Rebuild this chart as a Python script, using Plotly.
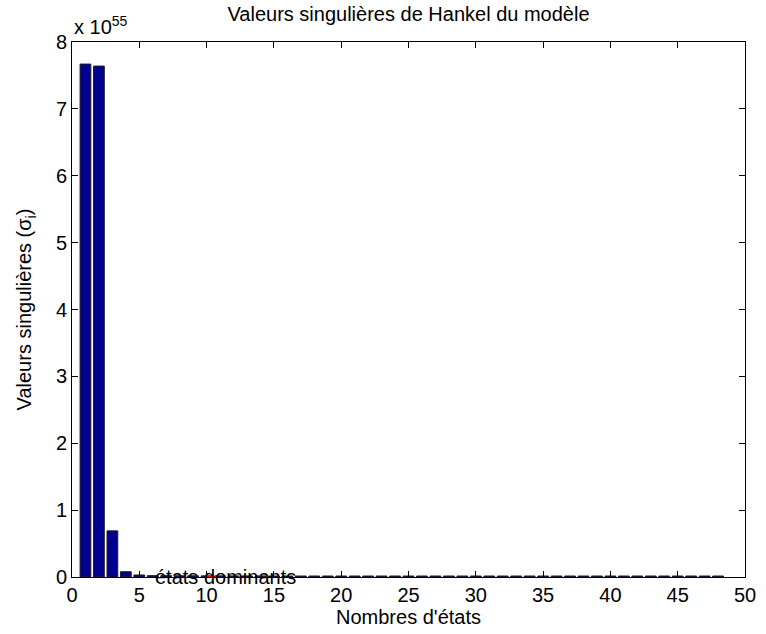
import plotly.graph_objects as go

# Data (values in units of 1e55)
states = list(range(1, 49))
sigma = [7.67, 7.64, 0.69, 0.079, 0.03, 0.02, 0.02, 0.018, 0.018, 0.017,
         0.017, 0.016, 0.016, 0.016, 0.015, 0.015, 0.015, 0.015, 0.015, 0.015,
         0.015, 0.015, 0.015, 0.015, 0.015, 0.015, 0.015, 0.015, 0.015, 0.015,
         0.015, 0.015, 0.015, 0.015, 0.015, 0.015, 0.015, 0.015, 0.015, 0.015,
         0.015, 0.015, 0.015, 0.015, 0.015, 0.015, 0.015, 0.015]
x_ticks = [0, 5, 10, 15, 20, 25, 30, 35, 40, 45, 50]
y_ticks = [0, 1, 2, 3, 4, 5, 6, 7, 8]
exponent = 55
label_x = 6.0
label_text = "états dominants"
marker_x = 10.3

FONT = "Liberation Sans, Arial, sans-serif"
FS = 20

fig = go.Figure()
fig.add_trace(go.Bar(
    x=states, y=sigma, width=0.8,
    marker=dict(color="rgb(0,0,143)", line=dict(color="rgb(30,30,30)", width=1)),
    showlegend=False,
))
fig.add_trace(go.Scatter(
    x=[marker_x], y=[0], mode="markers",
    marker=dict(symbol="line-ew", size=8, line=dict(color="red", width=2)),
    showlegend=False,
))

fig.add_annotation(x=label_x, y=0, xref="x", yref="y", text=label_text,
                   showarrow=False, xanchor="left", yanchor="middle",
                   font=dict(family=FONT, size=FS, color="black"))
fig.add_annotation(x=0, y=1, xref="paper", yref="paper",
                   text=f"x 10<sup>{exponent}</sup>",
                   showarrow=False, xanchor="left", yanchor="bottom", yshift=2,
                   font=dict(family=FONT, size=FS, color="black"))

axis_common = dict(showline=True, linecolor="black", linewidth=1, mirror="ticks",
                   ticks="inside", ticklen=6, tickcolor="black", showgrid=False,
                   zeroline=False, ticklabeloverflow="allow",
                   tickfont=dict(family=FONT, size=FS, color="black"))

fig.update_layout(
    width=766, height=634,
    margin=dict(l=72, r=10, t=42, b=56),
    paper_bgcolor="white", plot_bgcolor="white",
    font=dict(family=FONT, size=FS, color="black"),
    title=dict(text="Valeurs singulières de Hankel du modèle", x=0.5, xref="paper",
               y=1 - 14 / 634, yanchor="middle",
               font=dict(family=FONT, size=FS, color="black")),
    xaxis=dict(range=[0, 50], tickvals=x_ticks,
               title=dict(text="Nombres d'états", standoff=4,
                          font=dict(family=FONT, size=FS)), **axis_common),
    yaxis=dict(range=[0, 8], tickvals=y_ticks,
               title=dict(text="Valeurs singulières (σ<sub>i</sub>)", standoff=18,
                          font=dict(family=FONT, size=FS)), **axis_common),
    bargap=0.2,
)

fig.write_html("out.html")
